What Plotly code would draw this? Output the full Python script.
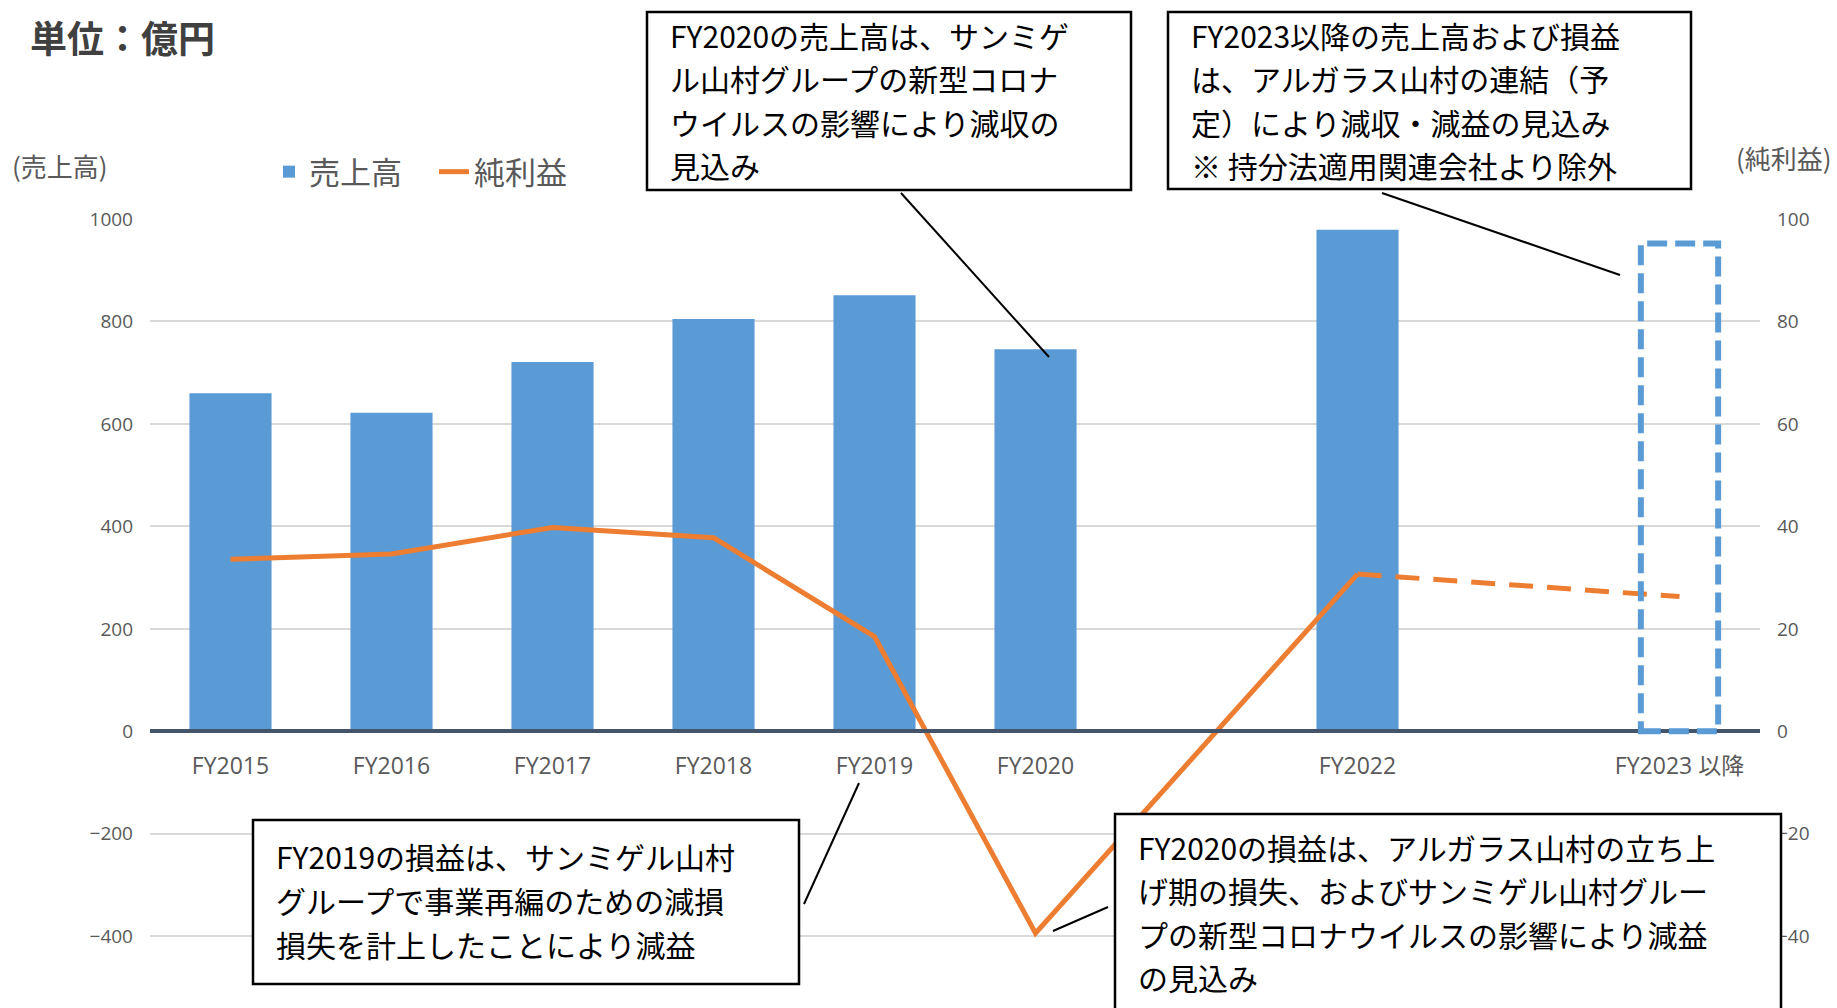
import plotly.graph_objects as go

# ---------------- data ----------------
category_slots = ["FY2015", "FY2016", "FY2017", "FY2018", "FY2019", "FY2020",
                  "FY2021", "FY2022", "gap", "FY2023 以降"]
tick_labels = ["FY2015", "FY2016", "FY2017", "FY2018", "FY2019", "FY2020",
               "FY2022", "FY2023 以降"]
actual_years = ["FY2015", "FY2016", "FY2017", "FY2018", "FY2019", "FY2020", "FY2022"]
sales = [660, 622, 721, 805, 851, 746, 979]               # 売上高 (億円)
net_income = [33.6, 34.6, 39.8, 37.8, 18.5, -39.4, 30.7]  # 純利益 (億円)
forecast_year = "FY2023 以降"
sales_forecast = 952
net_income_forecast = 26.3

note_lines = [
    ["FY2020の売上高は、サンミゲ", "ル山村グループの新型コロナ",
     "ウイルスの影響により減収の", "見込み"],
    ["FY2023以降の売上高および損益", "は、アルガラス山村の連結（予",
     "定）により減収・減益の見込み", "※ 持分法適用関連会社より除外"],
    ["FY2019の損益は、サンミゲル山村", "グループで事業再編のための減損",
     "損失を計上したことにより減益"],
    ["FY2020の損益は、アルガラス山村の立ち上", "げ期の損失、およびサンミゲル山村グルー",
     "プの新型コロナウイルスの影響により減益", "の見込み"],
]

# ---------------- layout helpers ----------------
W, H = 1837, 1008
ML, MR, MT, MB = 150, 77, 219, 0
Y1_RANGE = [-540, 1000]
Y2_RANGE = [-54, 100]


def px(X):
    return (X - ML) / (W - ML - MR)


def py(Y):
    return (H - MB - Y) / (H - MT - MB)


BLUE = "#5B9BD5"
ORANGE = "#ED7D31"
GRAY = "#595959"
JP = "Noto Sans CJK JP"
NUM = "Open Sans, Noto Sans CJK JP"
NOTE_SIZE = 30
NOTE_STEP = 43.6

fig = go.Figure()
fig.add_trace(go.Bar(x=actual_years, y=sales, name="売上高",
                     marker=dict(color=BLUE, line=dict(width=0)), yaxis="y"))
fig.add_trace(go.Scatter(x=actual_years, y=net_income, name="純利益", mode="lines",
                         line=dict(color=ORANGE, width=5), yaxis="y2"))
fig.add_trace(go.Scatter(x=[actual_years[-1], forecast_year],
                         y=[net_income[-1], net_income_forecast],
                         mode="lines", showlegend=False,
                         line=dict(color=ORANGE, width=5, dash="24px,14px"), yaxis="y2"))

zero_pos = (0 - Y1_RANGE[0]) / (Y1_RANGE[1] - Y1_RANGE[0])

shapes = [
    # forecast (dashed) sales bar
    dict(type="rect", xref="x", yref="y", x0=forecast_year, x1=forecast_year,
         x0shift=-0.24, x1shift=0.24, y0=0, y1=sales_forecast,
         line=dict(color=BLUE, width=6, dash="20px,8px"), fillcolor="rgba(0,0,0,0)"),
]

boxes = [  # pixel boxes (left, top, right, bottom)
    (647, 12, 1131, 190),
    (1168, 12, 1691, 189),
    (253, 820, 799, 984),
    (1115, 814, 1781, 1015),
]
for (x0, y0, x1, y1) in boxes:
    shapes.append(dict(type="rect", xref="paper", yref="paper",
                       x0=px(x0), x1=px(x1), y0=py(y1), y1=py(y0),
                       line=dict(color="black", width=2.5), fillcolor="white", layer="above"))

connectors = [
    (901, 193, 1049, 357),
    (1382, 193, 1620, 275),
    (804, 904, 859, 783),
    (1053, 931, 1108, 907),
]
for (x0, y0, x1, y1) in connectors:
    shapes.append(dict(type="line", xref="paper", yref="paper",
                       x0=px(x0), y0=py(y0), x1=px(x1), y1=py(y1),
                       line=dict(color="black", width=2), layer="above"))

text_pos = [(668, 100), (1189, 100), (274, 900), (1136, 912)]
annotations = []
for (tx, ty), lines in zip(text_pos, note_lines):
    n = len(lines)
    for i, line in enumerate(lines):
        cy = ty + (i - (n - 1) / 2) * NOTE_STEP
        annotations.append(dict(xref="paper", yref="paper", x=px(tx), y=py(cy),
                                xanchor="left", yanchor="middle", align="left",
                                showarrow=False, text=line,
                                font=dict(family=JP, size=NOTE_SIZE, color="black")))

annotations += [
    dict(xref="paper", yref="paper", x=px(28), y=py(37), xanchor="left", yanchor="middle",
         showarrow=False, text="<b>単位：億円</b>",
         font=dict(family=JP, size=37, color="#404040")),
    dict(xref="paper", yref="paper", x=px(10), y=py(166), xanchor="left", yanchor="middle",
         showarrow=False, text="(売上高)", font=dict(family=JP, size=26, color=GRAY)),
    dict(xref="paper", yref="paper", x=px(1834), y=py(158), xanchor="right", yanchor="middle",
         showarrow=False, text="(純利益)", font=dict(family=JP, size=26, color=GRAY)),
]

fig.update_layout(
    width=W, height=H,
    margin=dict(l=ML, r=MR, t=MT, b=MB),
    paper_bgcolor="white", plot_bgcolor="white",
    bargap=0.49,
    font=dict(family=JP, color=GRAY),
    showlegend=True,
    legend=dict(orientation="h", x=px(269), y=py(172), xanchor="left", yanchor="middle",
                font=dict(family=JP, size=31, color=GRAY), bgcolor="rgba(0,0,0,0)",
                traceorder="normal", entrywidth=120, entrywidthmode="pixels"),
    xaxis=dict(type="category", categoryorder="array", categoryarray=category_slots,
               range=[-0.5, len(category_slots) - 0.5],
               tickmode="array", tickvals=tick_labels, ticktext=tick_labels,
               anchor="free", position=zero_pos,
               showline=True, linecolor="#44546A", linewidth=4,
               showgrid=False, zeroline=False, ticks="",
               ticklabelstandoff=13,
               tickfont=dict(family=NUM, size=23, color=GRAY)),
    yaxis=dict(range=Y1_RANGE, tick0=0, dtick=200, showgrid=True,
               gridcolor="#D9D9D9", gridwidth=1.5, zeroline=False,
               ticks="", ticklabelstandoff=16,
               tickfont=dict(family=NUM, size=19, color=GRAY)),
    yaxis2=dict(range=Y2_RANGE, tick0=0, dtick=20, overlaying="y", side="right",
                showgrid=False, zeroline=False, ticks="", ticklabelstandoff=16,
                tickfont=dict(family=NUM, size=19, color=GRAY)),
    shapes=shapes,
    annotations=annotations,
)

fig.write_html("out.html", config={"displayModeBar": False},
               post_script="document.body.style.margin='0';")
